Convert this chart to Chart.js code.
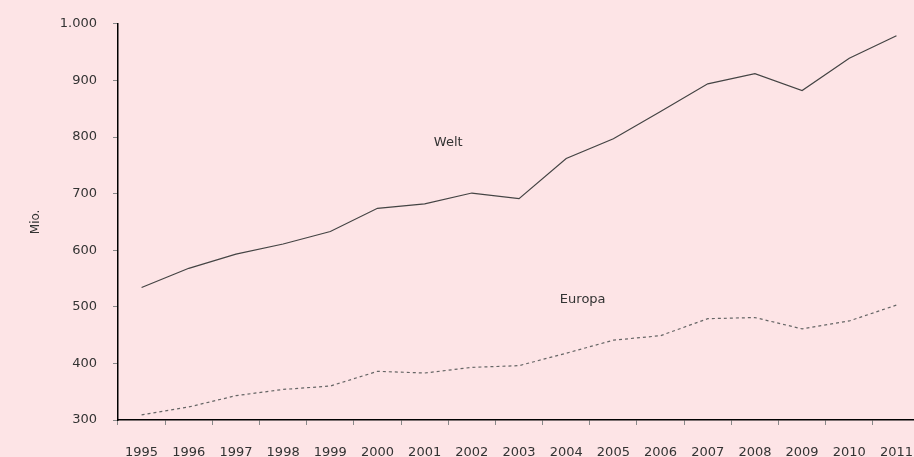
<!DOCTYPE html>
<html>
<head>
<meta charset="utf-8">
<script src="https://cdn.jsdelivr.net/npm/chart.js@4"></script>
<style>
  html, body { margin: 0; padding: 0; background: #fde4e6; overflow: hidden; }
  #wrap { width: 933px; height: 457px; }
</style>
</head>
<body>
<div id="wrap"><canvas id="lineChart"></canvas></div>
<script>
// DATEN
const years = ["1995", "1996", "1997", "1998", "1999", "2000", "2001", "2002", "2003",
  "2004", "2005", "2006", "2007", "2008", "2009", "2010", "2011"];
const welt = [534, 568, 593, 611, 633, 674, 682, 701, 691, 762, 797, 845, 894, 912, 882, 939, 979];
const europa = [309, 323, 343, 354, 360, 386, 383, 393, 396, 418, 441, 449, 479, 481, 461, 475, 503];
const seriesNames = ["Welt", "Europa"];
// wo die Namen im Diagramm stehen (Kategorie-Index, Wert)
const nameAnchors = [[6.5, 790], [9.35, 513]];

const FONT = "'DejaVu Sans', sans-serif";
const TEXT = "#333333";

// Beschriftungen "Welt" / "Europa" direkt im Diagramm
const seriesLabels = {
  id: "seriesLabels",
  afterDatasetsDraw(chart) {
    const { ctx, scales } = chart;
    ctx.save();
    ctx.font = "13px " + FONT;
    ctx.fillStyle = TEXT;
    ctx.textAlign = "center";
    ctx.textBaseline = "middle";
    seriesNames.forEach((name, i) => {
      const x = scales.x.getPixelForValue(nameAnchors[i][0]);
      const y = scales.y.getPixelForValue(nameAnchors[i][1]);
      ctx.fillText(name, x, y);
    });
    ctx.restore();
  }
};

const ctx = document.getElementById("lineChart").getContext("2d");

new Chart(ctx, {
  type: "line",
  data: {
    labels: years,
    datasets: [
      {
        label: seriesNames[0],
        data: welt,
        borderColor: "#444444",
        borderWidth: 1.2,
        pointRadius: 0,
        tension: 0
      },
      {
        label: seriesNames[1],
        data: europa,
        borderColor: "#666666",
        borderWidth: 1.2,
        borderDash: [3, 3],
        pointRadius: 0,
        tension: 0
      }
    ]
  },
  options: {
    responsive: true,
    maintainAspectRatio: false,
    animation: false,
    locale: "de-DE",
    layout: { padding: { top: 22, right: 0, bottom: 0, left: 0 } },
    plugins: {
      legend: { display: false },
      tooltip: { enabled: false }
    },
    scales: {
      x: {
        offset: true,
        grid: {
          display: true,
          drawOnChartArea: false,
          tickLength: 5,
          tickColor: "#888888",
          offset: true
        },
        border: { display: true, color: "#000000", width: 1.5 },
        ticks: {
          color: TEXT,
          font: { family: FONT, size: 13 },
          padding: 20,
          maxRotation: 0,
          autoSkip: false
        },
        afterFit(scale) {
          scale.height = 37;
        }
      },
      y: {
        min: 300,
        max: 1000,
        grid: {
          display: true,
          drawOnChartArea: false,
          tickLength: 5,
          tickColor: "#888888"
        },
        border: { display: true, color: "#000000", width: 1.5 },
        ticks: {
          stepSize: 100,
          color: TEXT,
          font: { family: FONT, size: 13 },
          padding: 16
        },
        title: {
          display: true,
          text: "Mio.",
          color: TEXT,
          font: { family: FONT, size: 12 },
          padding: { top: 29, bottom: 0 }
        },
        afterFit(scale) {
          scale.width = 118;
        }
      }
    }
  },
  plugins: [seriesLabels]
});
</script>
</body>
</html>
